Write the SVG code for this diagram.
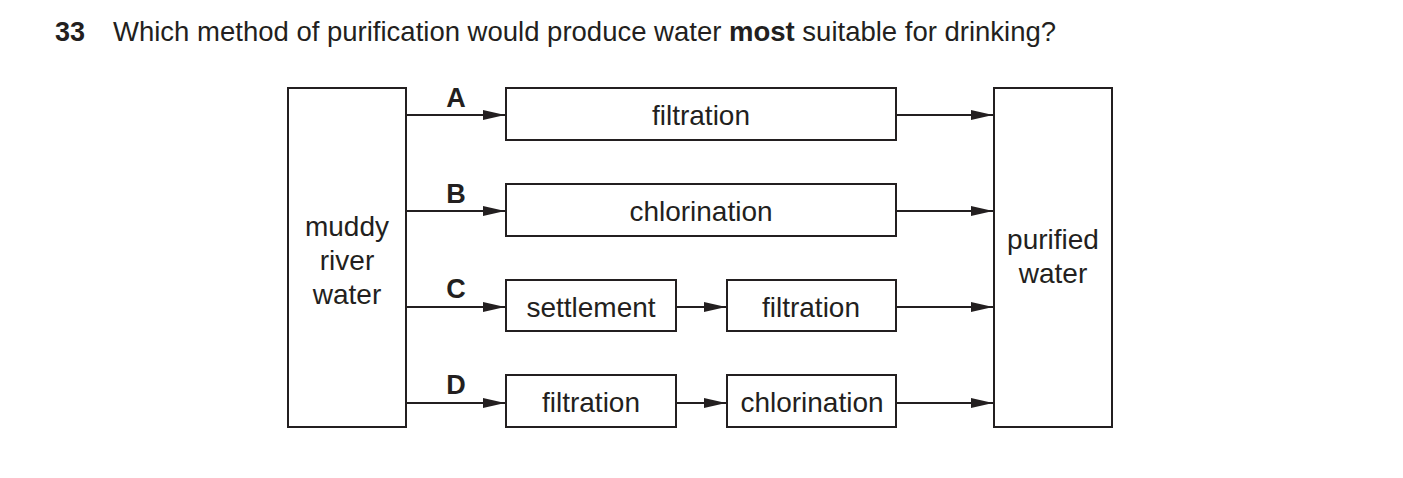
<svg xmlns="http://www.w3.org/2000/svg" width="1403" height="478" viewBox="0 0 1403 478">
<defs><marker id="ah" markerWidth="22" markerHeight="10" refX="22" refY="5" orient="auto" markerUnits="userSpaceOnUse"><path d="M0,0 L22,5 L0,10 Z" fill="#231f20"/></marker></defs>
<style>
.b{fill:#fff;stroke:#231f20;stroke-width:2}
.t{font-family:"Liberation Sans",Arial,sans-serif;font-size:28px;fill:#231f20;text-anchor:middle}
.l{font-family:"Liberation Sans",Arial,sans-serif;font-size:27px;font-weight:bold;fill:#231f20;text-anchor:middle}
.c{stroke:#231f20;stroke-width:2;fill:none;marker-end:url(#ah)}
</style>
<rect width="1403" height="478" fill="#fff"/>
<text x="55" y="41" font-family="Liberation Sans,Arial,sans-serif" font-size="27" font-weight="bold" fill="#231f20">33</text>
<text x="113" y="41" font-family="Liberation Sans,Arial,sans-serif" font-size="27.5" fill="#231f20">Which method of purification would produce water <tspan font-weight="bold">most</tspan> suitable for drinking?</text>
<g id="source"><rect class="b" x="288" y="88" width="118" height="339"/><text class="t" x="347" y="236">muddy</text><text class="t" x="347" y="270">river</text><text class="t" x="347" y="304">water</text></g>
<g id="target"><rect class="b" x="994" y="88" width="118" height="339"/><text class="t" x="1053" y="249">purified</text><text class="t" x="1053" y="283">water</text></g>
<g id="a-filtration"><rect class="b" x="506" y="88" width="390" height="52"/><text class="t" x="701" y="125">filtration</text></g>
<g id="b-chlorination"><rect class="b" x="506" y="184" width="390" height="52"/><text class="t" x="701" y="221">chlorination</text></g>
<g id="c-settlement"><rect class="b" x="506" y="280" width="170" height="51"/><text class="t" x="591" y="317">settlement</text></g>
<g id="c-filtration"><rect class="b" x="727" y="280" width="169" height="51"/><text class="t" x="811" y="317">filtration</text></g>
<g id="d-filtration"><rect class="b" x="506" y="375" width="170" height="52"/><text class="t" x="591" y="412">filtration</text></g>
<g id="d-chlorination"><rect class="b" x="727" y="375" width="169" height="52"/><text class="t" x="812" y="412">chlorination</text></g>
<g id="labels"><text class="l" x="456" y="107">A</text><text class="l" x="456" y="203">B</text><text class="l" x="456" y="298">C</text><text class="l" x="456" y="394">D</text></g>
<g id="connectors">
<line class="c" x1="406" y1="115" x2="505" y2="115"/><line class="c" x1="896" y1="115" x2="993" y2="115"/>
<line class="c" x1="406" y1="211" x2="505" y2="211"/><line class="c" x1="896" y1="211" x2="993" y2="211"/>
<line class="c" x1="406" y1="307" x2="505" y2="307"/><line class="c" x1="676" y1="307" x2="726" y2="307"/><line class="c" x1="896" y1="307" x2="993" y2="307"/>
<line class="c" x1="406" y1="403" x2="505" y2="403"/><line class="c" x1="676" y1="403" x2="726" y2="403"/><line class="c" x1="896" y1="403" x2="993" y2="403"/>
</g>
</svg>
